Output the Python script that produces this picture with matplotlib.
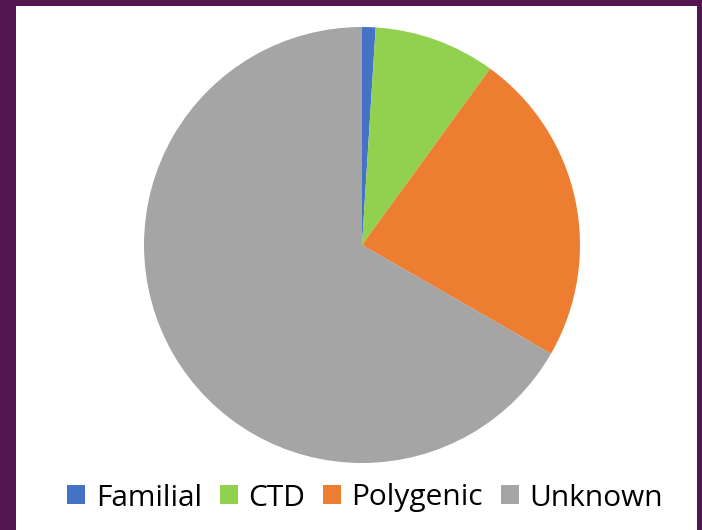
import matplotlib.pyplot as plt
from matplotlib.patches import Rectangle

# share of cases by cause
labels = ["Familial", "CTD", "Polygenic", "Unknown"]
values = [1, 9, 23.3, 66.7]
colors = ["#4472C4", "#92D050", "#ED7D31", "#A5A5A5"]

W, H = 702, 530
fig = plt.figure(figsize=(W / 100, H / 100), dpi=100, facecolor="#531650")

# white panel on the purple slide background
bg = fig.add_axes([16 / W, 0, (697 - 16) / W, (H - 6) / H])
bg.set_facecolor("white")
bg.set_xticks([])
bg.set_yticks([])
for s in bg.spines.values():
    s.set_visible(False)

cx, cy, r = 362, 245, 218
ax = fig.add_axes([(cx - r) / W, (H - cy - r) / H, 2 * r / W, 2 * r / H])
ax.pie(values, colors=colors, startangle=90, counterclock=False,
       wedgeprops=dict(linewidth=0))
ax.set_xlim(-1, 1)
ax.set_ylim(-1, 1)
ax.set_aspect("equal")
ax.axis("off")

handles = [Rectangle((0, 0), 1, 1, facecolor=c) for c in colors]
fig.legend(handles, labels, loc="center", bbox_to_anchor=(365 / W, 1 - 498 / H),
           ncol=4, frameon=False, handlelength=0.6,
           handleheight=0.6, handletextpad=0.35, columnspacing=0.6,
           prop={"family": "Open Sans", "size": 21.5})

fig.savefig("out.png", dpi=100, facecolor=fig.get_facecolor())
